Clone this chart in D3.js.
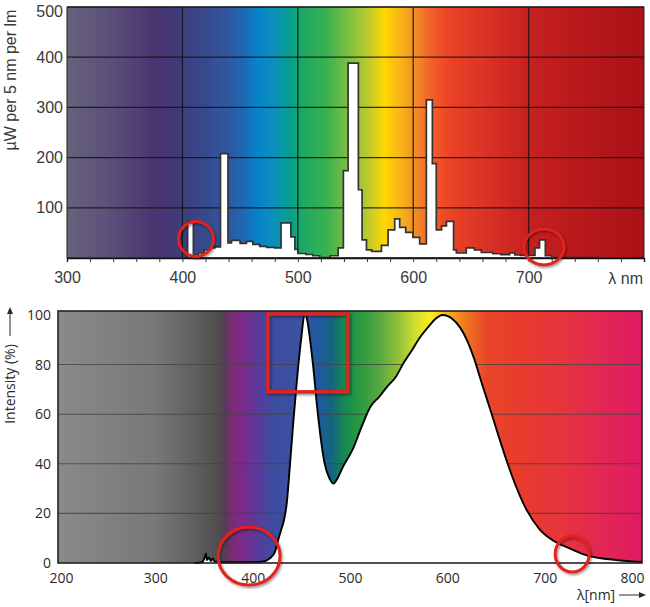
<!DOCTYPE html>
<html><head><meta charset="utf-8">
<script src="https://cdn.jsdelivr.net/npm/d3@7"></script>
<style>body{margin:0;background:#fff}svg{display:block}</style>
</head><body><svg id="c" width="650" height="607"></svg>
<script>
// ---------- DATA ----------
// Top chart: fluorescent lamp spectrum, µW per 5 nm per lm (step outline)
const topTicksX = [300, 400, 500, 600, 700];
const topMinorTicksX = [320,340,360,380,400,420,440,460,480,500,520,540,560,580,600,620,640,660,680,700,720,740,760,780];
const topTicksY = [100, 200, 300, 400, 500];
const topWl  = [404.5,409.5,414,419,424,428,433,439.5,442.5,450,455.5,461,467,473,480,485.5,494,497.5,500,507,513,519,528,535,539.5,543.6,552.5,555.7,559.5,564,572.5,578.2,584,588.3,593.5,599.8,605.6,611.4,616.6,620,624.6,628.8,635,637.4,646,653,659,669,676,683.5,688,693,705.5,709.5,714.5,720,760];
const topVal = [73,6,10,16,20,22,208,30,35,29,33,27,23,21,20,70,42,17,9,7,4.5,1,4.5,20,174,388,136,36,16,13,25,56,78,61,51,41,28,315,188,56,64,73,16,10,20,16,11,8.5,6.6,10,6,5,20,36,4.6,1,0];

// Bottom chart: white LED spectrum, relative intensity (%)
const botTicksX = [200, 300, 400, 500, 600, 700, 800];
const botTicksY = [0, 20, 40, 60, 80, 100];
const botWl  = [340,348,350,352,353,355,357,359,361,365,375,390,404,409,414,418,423,426,429,432,435,438,442,446,450,453.5,456,459,462,467,474,479,483,487,493,503,512,521,530,538,547,555,564,572,580,588,595,600,605,613,620,627,635,644,652,662,672,682,695,709,725,744,760,778,790,800];
const botVal = [0,0.3,1.5,3.8,1.2,2.2,0.8,1.8,0.6,0.4,0.3,0.3,0.3,0.5,1,2,4.6,9,13,17,24,38,58,76,91,100.5,98,90,80,60,40,34,32,34,39,46,55,63,67,71,75,80.6,86,91,95,98.5,100,99.6,98.5,95,90,83,73,62,52,40,29.5,21,13.5,9,6,3,1.8,1,0.6,0.4];

// Annotation marks (data coordinates: wavelength, value)
const topCircles = [[411.8, 38], [713.3, 22]];
const botCircles = [[396.3, 2.8], [728.3, 3.6]];
const botRect = [415.8, 498, 69, 100.4];

// ---------- STYLE ----------
const topStops = [[300,"#676279"],[340,"#5a4e7a"],[375,"#4a3470"],[395,"#403a78"],[420,"#37498e"],[440,"#2f58a0"],[455,"#1a6cb6"],[465,"#0683cb"],[480,"#0a8fb8"],[493,"#06a090"],[505,"#1ea862"],[525,"#3ab050"],[545,"#7fc040"],[562,"#c0cc2a"],[575,"#ffd700"],[590,"#f8b21a"],[603,"#f38a26"],[615,"#f0622a"],[630,"#ec4424"],[660,"#dc3426"],[700,"#c62020"],[760,"#b4171a"],[800,"#aa1015"]];
const botStops = [[200,"#8a8a8a"],[300,"#787878"],[345,"#5c5c5c"],[365,"#4e4e4e"],[372,"#5a3a5a"],[380,"#7e2a78"],[390,"#7a2a8c"],[405,"#5a3a9a"],[420,"#3e4ca0"],[450,"#3a52a2"],[468,"#1e5aa0"],[482,"#15667c"],[495,"#158a50"],[510,"#2a9a40"],[530,"#56a840"],[550,"#94c038"],[568,"#d4e030"],[582,"#f8ec20"],[592,"#f8d020"],[605,"#f6a422"],[620,"#f07420"],[640,"#e84628"],[680,"#e83a2e"],[720,"#e6343e"],[760,"#e22654"],[800,"#e01a64"]];

const svg = d3.select("#c");
const defs = svg.append("defs");
const shadow = defs.append("filter").attr("id","sh").attr("x","-20%").attr("y","-20%").attr("width","140%").attr("height","140%");
shadow.append("feDropShadow").attr("dx",1.2).attr("dy",1.5).attr("stdDeviation",1.2).attr("flood-color","#000").attr("flood-opacity",0.45);

function gradient(id, scale, stops){
  const [a,b] = scale.domain();
  const g = defs.append("linearGradient").attr("id",id).attr("gradientUnits","userSpaceOnUse")
    .attr("x1",scale(a)).attr("x2",scale(b)).attr("y1",0).attr("y2",0);
  stops.forEach(([w,c]) => g.append("stop").attr("offset",(w-a)/(b-a)).attr("stop-color",c));
}

// ---------- TOP CHART ----------
const xT = d3.scaleLinear([300, 800], [67, 644]);
const yT = d3.scaleLinear([0, 500], [258, 7]);
gradient("gT", xT, topStops);
const gT = svg.append("g");
gT.append("rect").attr("x",xT(300)).attr("y",yT(500)).attr("width",xT(800)-xT(300)).attr("height",yT(0)-yT(500)).attr("fill","url(#gT)");

// grid
gT.append("g").selectAll("line").data(topTicksY).join("line")
  .attr("x1",xT(300)).attr("x2",xT(800)).attr("y1",d=>yT(d)).attr("y2",d=>yT(d))
  .attr("stroke","#141414").attr("stroke-opacity",0.85).attr("stroke-width",1.3);
gT.append("g").selectAll("line").data(topTicksX.filter(d=>d>300)).join("line")
  .attr("x1",d=>xT(d)).attr("x2",d=>xT(d)).attr("y1",yT(0)).attr("y2",yT(500))
  .attr("stroke","#141414").attr("stroke-opacity",0.85).attr("stroke-width",1.3);

// spectrum
const topPts = topWl.map((w,i)=>[w, topVal[i]]);
const topArea = d3.area().curve(d3.curveStepAfter).x(d=>xT(d[0])).y0(yT(0)).y1(d=>yT(d[1]));
gT.append("path").datum(topPts).attr("d",topArea).attr("fill","#fff")
  .attr("stroke","#333").attr("stroke-width",1.7).attr("stroke-linejoin","miter");

// frame
gT.append("rect").attr("x",xT(300)).attr("y",yT(500)).attr("width",xT(800)-xT(300)).attr("height",yT(0)-yT(500))
  .attr("fill","none").attr("stroke","#222").attr("stroke-width",1);

// axes
const axTminor = gT.append("g").attr("transform",`translate(0,${yT(0)})`)
  .call(d3.axisBottom(xT).tickValues(topMinorTicksX).tickSize(4).tickFormat(""));
axTminor.select(".domain").attr("stroke","#111").attr("stroke-width",1.3);
axTminor.selectAll(".tick line").attr("stroke","#333");
const axTx = gT.append("g").attr("transform",`translate(0,${yT(0)})`)
  .call(d3.axisBottom(xT).tickValues(topTicksX).tickSize(0).tickPadding(14));
axTx.select(".domain").remove();
axTx.selectAll("text").attr("font-family","'Liberation Sans', Arial, sans-serif").attr("font-size",16).attr("fill","#3a3a3a");
const axTy = gT.append("g").attr("transform",`translate(${xT(300)},0)`)
  .call(d3.axisLeft(yT).tickValues(topTicksY).tickSize(0).tickPadding(4));
axTy.select(".domain").remove();
axTy.selectAll("text").attr("font-family","'Liberation Sans', Arial, sans-serif").attr("font-size",16).attr("fill","#3a3a3a");
axTy.selectAll(".tick").filter(d=>d===500).select("text").attr("dy","0.62em");

gT.append("text").attr("x",643).attr("y",284).attr("text-anchor","end")
  .attr("font-family","'Liberation Sans', Arial, sans-serif").attr("font-size",16).attr("fill","#3a3a3a").text("λ nm");
gT.append("text").attr("transform","translate(16,80) rotate(-90)").attr("text-anchor","middle")
  .attr("font-family","'Liberation Sans', Arial, sans-serif").attr("font-size",16).attr("fill","#3a3a3a").text("µW per 5 nm per lm");

// annotations
gT.append("g").selectAll("ellipse").data(topCircles).join("ellipse")
  .attr("cx",d=>xT(d[0])).attr("cy",d=>yT(d[1])).attr("rx",(d,i)=>i?20:17.5).attr("ry",(d,i)=>i?18:17.5)
  .attr("fill","none").attr("stroke","#e3201b").attr("stroke-width",3).attr("filter","url(#sh)");

// ---------- BOTTOM CHART ----------
const xB = d3.scaleLinear([200, 800], [58, 642]);
const yB = d3.scaleLinear([0, 101.6], [563, 311]);
gradient("gB", xB, botStops);
const gB = svg.append("g");
gB.append("rect").attr("x",xB(200)).attr("y",yB(101.6)).attr("width",xB(800)-xB(200)).attr("height",yB(0)-yB(101.6)).attr("fill","url(#gB)");

gB.append("g").selectAll("line").data(botTicksY.filter(d=>d>0 && d<100)).join("line")
  .attr("x1",xB(200)).attr("x2",xB(800)).attr("y1",d=>yB(d)).attr("y2",d=>yB(d))
  .attr("stroke","#444").attr("stroke-opacity",0.8).attr("stroke-width",1.1);

const botPts = botWl.map((w,i)=>[w, botVal[i]]);
const botArea = d3.area().curve(d3.curveMonotoneX).x(d=>xB(d[0])).y0(yB(0)).y1(d=>yB(d[1]));
const botLine = d3.line().curve(d3.curveMonotoneX).x(d=>xB(d[0])).y(d=>yB(d[1]));
gB.append("path").datum(botPts).attr("d",botArea).attr("fill","#fff");
gB.append("path").datum(botPts).attr("d",botLine).attr("fill","none").attr("stroke","#000").attr("stroke-width",1.9).attr("stroke-linejoin","round");

gB.append("rect").attr("x",xB(200)).attr("y",yB(101.6)).attr("width",xB(800)-xB(200)).attr("height",yB(0)-yB(101.6))
  .attr("fill","none").attr("stroke","#222").attr("stroke-width",1.6);

const fB = "'Open Sans', 'Noto Sans', sans-serif";
const axBx = gB.append("g").attr("transform",`translate(0,${yB(0)})`)
  .call(d3.axisBottom(xB).tickValues(botTicksX).tickSize(0).tickPadding(10));
axBx.select(".domain").remove();
axBx.selectAll("text").attr("font-family",fB).attr("font-size",14).attr("fill","#2a2a2a");
axBx.selectAll(".tick").filter(d=>d===800).select("text").attr("text-anchor","end").attr("x",2);
axBx.selectAll(".tick").filter(d=>d===200).select("text").attr("x",3);
const axBy = gB.append("g").attr("transform",`translate(${xB(200)},0)`)
  .call(d3.axisLeft(yB).tickValues(botTicksY).tickSize(0).tickPadding(7));
axBy.select(".domain").remove();
axBy.selectAll("text").attr("font-family",fB).attr("font-size",14).attr("fill","#2a2a2a");

// axis titles with arrows
gB.append("text").attr("transform","translate(15,384) rotate(-90)").attr("text-anchor","middle")
  .attr("font-family",fB).attr("font-size",14).attr("fill","#2a2a2a").text("Intensity (%)");
gB.append("line").attr("x1",10).attr("x2",10).attr("y1",336).attr("y2",311).attr("stroke","#2a2a2a").attr("stroke-width",1);
gB.append("path").attr("d","M10,307 L7,314 L13,314 Z").attr("fill","#2a2a2a");
gB.append("text").attr("x",577).attr("y",600)
  .attr("font-family",fB).attr("font-size",14).attr("fill","#2a2a2a").text("λ[nm]");
gB.append("line").attr("x1",619).attr("x2",641).attr("y1",595).attr("y2",595).attr("stroke","#2a2a2a").attr("stroke-width",1);
gB.append("path").attr("d","M646,595 L639,592 L639,598 Z").attr("fill","#2a2a2a");

// annotations
gB.append("g").selectAll("ellipse").data(botCircles).join("ellipse")
  .attr("cx",d=>xB(d[0])).attr("cy",d=>yB(d[1])).attr("rx",(d,i)=>i?17:31).attr("ry",(d,i)=>i?18:29)
  .attr("fill","none").attr("stroke","#e3201b").attr("stroke-width",3).attr("filter","url(#sh)");
gB.append("rect").attr("x",xB(botRect[0])).attr("y",yB(botRect[3]))
  .attr("width",xB(botRect[1])-xB(botRect[0])).attr("height",yB(botRect[2])-yB(botRect[3]))
  .attr("fill","none").attr("stroke","#e3201b").attr("stroke-width",3.5).attr("filter","url(#sh)");
</script></body></html>
